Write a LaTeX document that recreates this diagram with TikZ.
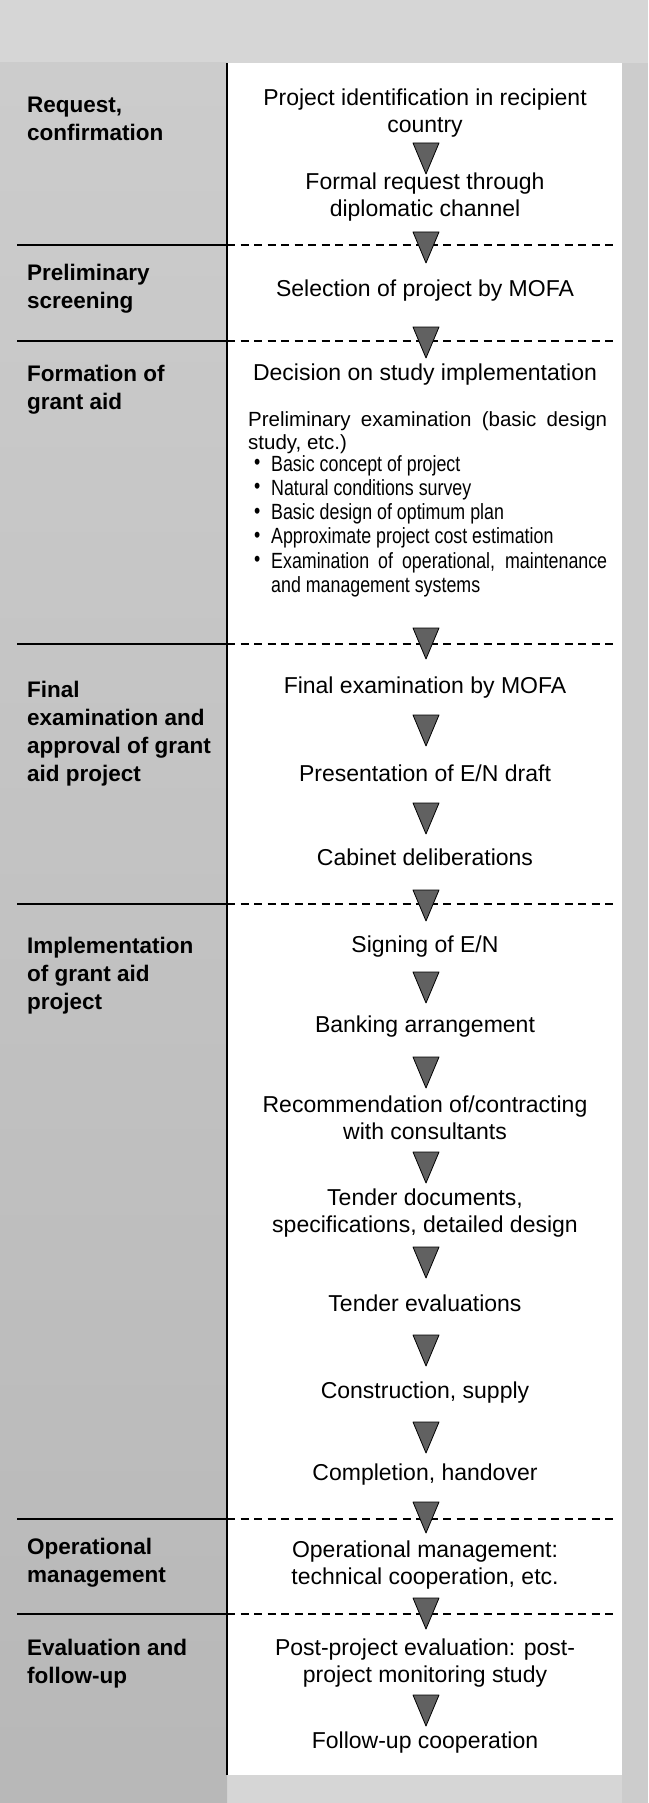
\documentclass[tikz,border=0pt]{standalone}
\usepackage{fontspec}
\setmainfont{Liberation Sans}
\newfontfamily\narrowfont[FakeStretch=0.81]{Liberation Sans}
\usetikzlibrary{calc}
\newcommand\bulletline[1]{\par\hangindent=23pt\hangafter=1\noindent\makebox[23pt][l]{\hspace{6pt}\raisebox{1.5pt}{\textbullet}}#1\par}
\tikzset{
  stepbox/.style={inner sep=0pt, align=center, font=\fontsize{23}{27}\selectfont},
  lbl/.style={inner sep=0pt, align=left, anchor=west, font=\bfseries\fontsize{22.5}{28}\selectfont},
  solidline/.style={line width=1.4pt, black},
  dashline/.style={line width=1.3pt, black, dash pattern=on 8pt off 5.5pt},
  downtri/.pic={\filldraw[fill=black!62, draw=black, line width=0.8pt, line join=round] (-13,0) -- (13,0) -- (0,31) -- cycle;}
}
\begin{document}
\begin{tikzpicture}[x=1pt,y=-1pt]
\useasboundingbox (0,0) rectangle (648,1803);
% backgrounds
\fill[black!16] (0,0) rectangle (648,1803);
\shade[top color=black!20, middle color=black!38, bottom color=black!28] (0,63) rectangle (227,1803);
\fill[black!20] (622,63) rectangle (648,1803);
\fill[white] (227,63) rectangle (622,1775);
% vertical rule
\draw[line width=1.6pt] (227,63) -- (227,1775);
% dividers
\foreach \yy in {245,341,644,904,1519,1614}{
  \draw[solidline] (17,\yy) -- (227,\yy);
  \draw[dashline] (227,\yy) -- (618,\yy);
}
% left labels
\node[lbl] (l1) at (27,118.5) {Request,\\confirmation};
\node[lbl] (l2) at (27,289) {Preliminary\\screening};
\node[lbl] (l3) at (27,390) {Formation of\\grant aid};
\node[lbl] (l4) at (27,733.5) {Final\\examination and\\approval of grant\\aid project};
\node[lbl] (l5) at (27,976) {Implementation\\of grant aid\\project};
\node[lbl] (l6) at (27,1563) {Operational\\management};
\node[lbl] (l7) at (27,1664) {Evaluation and\\follow-up};
% right column steps
\node[stepbox] (p1) at (425,113.5) {Project identification in recipient\\country};
\node[stepbox] (p2) at (425,197.5) {Formal request through\\diplomatic channel};
\node[stepbox] (p3) at (425,291) {Selection of project by MOFA};
\node[stepbox] (p4) at (425,375) {Decision on study implementation};
\node[anchor=base west, inner sep=0pt] (p5) at (248,426) {\parbox[t]{359pt}{\fontsize{20.5}{23}\selectfont\hyphenpenalty=10000 Preliminary examination (basic design study, etc.)}};
\node[anchor=base west, inner sep=0pt] (p6) at (248,471) {\parbox[t]{359pt}{\narrowfont\fontsize{22}{24.3}\selectfont\hyphenpenalty=10000
\bulletline{Basic concept of project}
\bulletline{Natural conditions survey}
\bulletline{Basic design of optimum plan}
\bulletline{Approximate project cost estimation}
\bulletline{Examination of operational, maintenance and management systems}}};
\node[stepbox] (p7) at (425,688) {Final examination by MOFA};
\node[stepbox] (p8) at (425,773) {Presentation of E/N draft};
\node[stepbox] (p9) at (425,857) {Cabinet deliberations};
\node[stepbox] (p10) at (425,947) {Signing of E/N};
\node[stepbox] (p11) at (425,1027) {Banking arrangement};
\node[stepbox] (p12) at (425,1117.5) {Recommendation of/contracting\\with consultants};
\node[stepbox] (p13) at (425,1213.5) {Tender documents,\\specifications, detailed design};
\node[stepbox] (p14) at (425,1303) {Tender evaluations};
\node[stepbox] (p15) at (425,1393) {Construction, supply};
\node[stepbox] (p16) at (425,1475) {Completion, handover};
\node[stepbox] (p17) at (425,1565) {Operational management:\\technical cooperation, etc.};
\node[stepbox] (p18) at (425,1663) {Post-project evaluation: post-\\project monitoring study};
\node[stepbox] (p19) at (425,1743) {Follow-up cooperation};
% triangles
\foreach \ty in {143,232,327,628,715,803,890,972,1057,1152,1247,1335,1422,1502,1598,1695}{
  \pic at (426,\ty) {downtri};
}
\end{tikzpicture}
\end{document}
